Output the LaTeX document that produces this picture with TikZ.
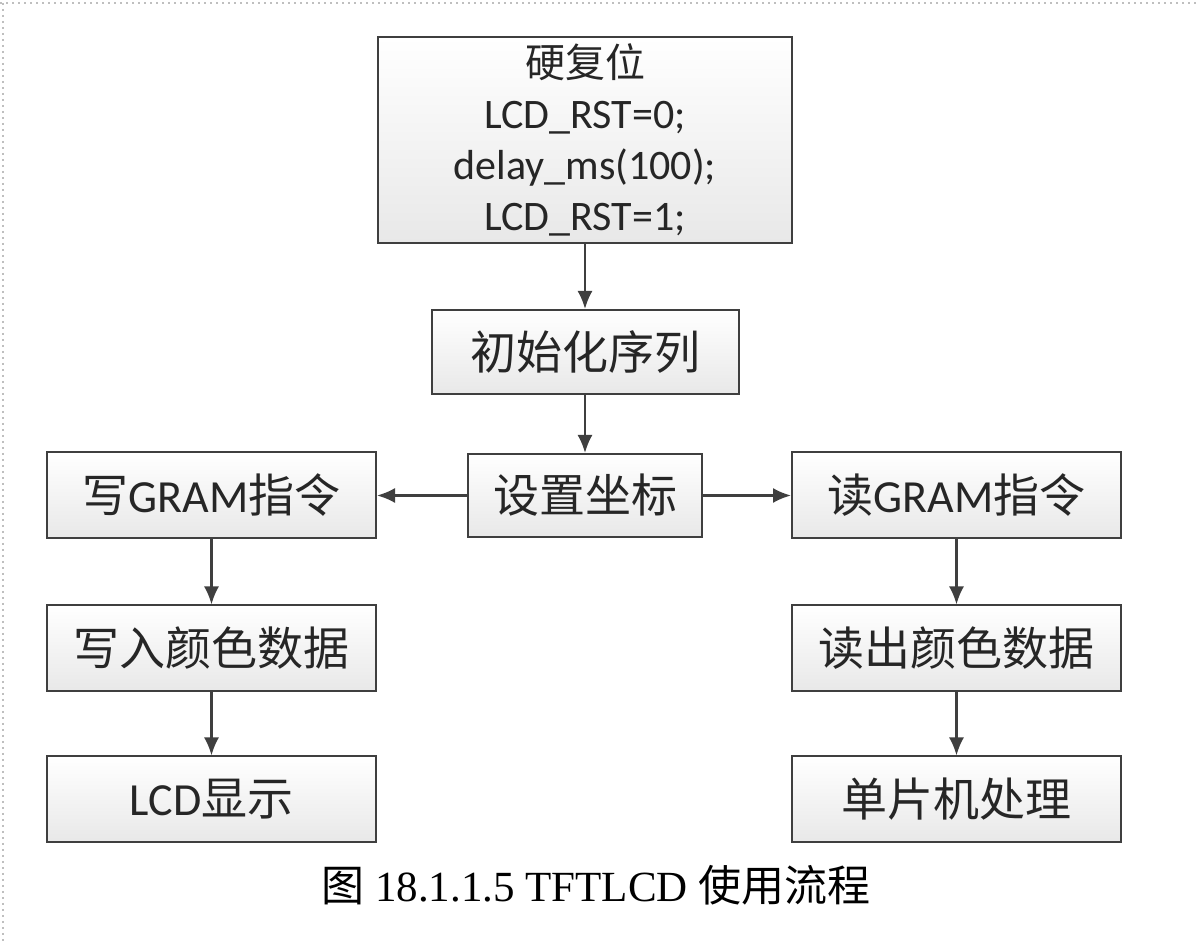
\documentclass[tikz,border=0pt]{standalone}
\usepackage{fontspec}
\setmainfont{Carlito}
\newfontfamily\cjk{Noto Sans CJK SC}
\newfontfamily\capfont{Liberation Serif}
\usepackage{xcolor}
\usetikzlibrary{arrows.meta, positioning}

\definecolor{lineGray}{HTML}{3F3F3F}
\newcommand{\zh}[1]{{\cjk #1}}

\begin{document}
\begin{tikzpicture}[
  x=0.5pt, y=-0.5pt,
  every node/.style={font=\fontsize{23}{26}\selectfont, text=black!85},
  stepbox/.style={rectangle, draw=lineGray, line width=1pt, top color=white, bottom color=black!9,
    inner sep=0pt, align=center},
  sidebox/.style={stepbox, minimum width=164.5pt, minimum height=43pt},
  arrow/.style={-{Latex[length=9pt, width=7.5pt]}, line width=1.1pt, lineGray},
]
\useasboundingbox (0,0) rectangle (1196,945);

% frame of the page
\draw[black!25, dotted, line width=1pt] (0,3) -- (1196,3);
\draw[black!25, dotted, line width=1pt] (3,3) -- (3,945);

% hard reset
\node[stepbox, minimum width=207pt, minimum height=103pt,
  font=\fontsize{21}{25.5}\selectfont] (reset) at (585,140) {
  \zh{\fontsize{20}{25.5}\selectfont 硬复位}\\
  LCD\_RST=0;\\
  delay\_ms(100);\\
  LCD\_RST=1;
};

% init sequence
\node[stepbox, minimum width=153.5pt, minimum height=42pt, below=32.5pt of reset] (init) {\zh{初始化序列}};

% set cursor
\node[stepbox, minimum width=117pt, minimum height=41.5pt, below=29pt of init] (cursor) {\zh{设置坐标}};

% write branch
\node[sidebox, left=45pt of cursor] (wcmd) {\zh{写}GRAM\zh{指令}};
\node[sidebox, below=32.5pt of wcmd] (wdata) {\zh{写入颜色数据}};
\node[sidebox, below=31.5pt of wdata] (show) {LCD\zh{显示}};

% read branch
\node[sidebox, right=44pt of cursor] (rcmd) {\zh{读}GRAM\zh{指令}};
\node[sidebox, below=32.5pt of rcmd] (rdata) {\zh{读出颜色数据}};
\node[sidebox, below=31.5pt of rdata] (mcu) {\zh{单片机处理}};

% Arrows
\draw[arrow] (reset.south) -- (init.north);
\draw[arrow] (init.south) -- (cursor.north);
\draw[arrow] (cursor.west) -- (wcmd.east);
\draw[arrow] (cursor.east) -- (rcmd.west);
\draw[arrow] (wcmd.south) -- (wdata.north);
\draw[arrow] (wdata.south) -- (show.north);
\draw[arrow] (rcmd.south) -- (rdata.north);
\draw[arrow] (rdata.south) -- (mcu.north);

% caption
\node[font=\fontsize{21.5}{24}\selectfont\capfont, text=black] (caption) at (596,885)
  {\zh{图} 18.1.1.5 TFTLCD \zh{使用流程}};

\end{tikzpicture}
\end{document}
